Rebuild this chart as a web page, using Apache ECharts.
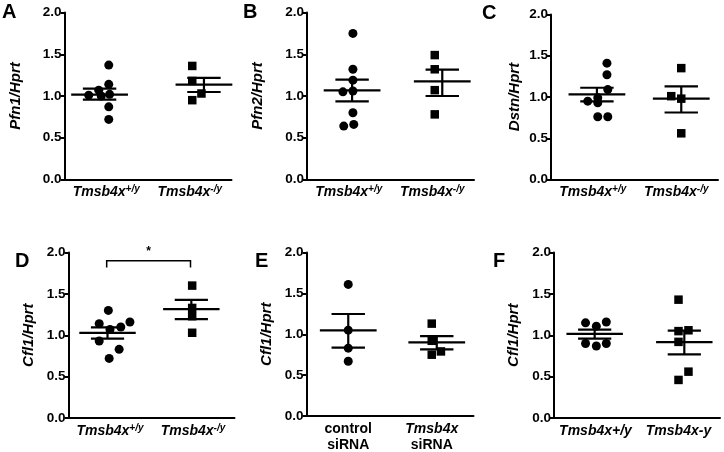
<!DOCTYPE html>
<html><head><meta charset="utf-8">
<script src="https://cdn.jsdelivr.net/npm/echarts@6/dist/echarts.min.js"></script>
<style>html,body{margin:0;padding:0;background:#fff}#c{width:724px;height:452px}</style>
</head><body><div id="c"></div>
<script>
// ---------- data ----------
const yTickLabels = ['0.0', '0.5', '1.0', '1.5', '2.0'];
const catsKO = ['Tmsb4x+/y', 'Tmsb4x-/y'];
const catsSi = ['control siRNA', 'Tmsb4x siRNA'];
const catsF = ['Tmsb4x+/y', 'Tmsb4x-y'];
const panelLetters = ['A', 'B', 'C', 'D', 'E', 'F'];
const yNames = ['Pfn1/Hprt', 'Pfn2/Hprt', 'Dstn/Hprt', 'Cfl1/Hprt', 'Cfl1/Hprt', 'Cfl1/Hprt'];

// Panel A  (Pfn1)
const aWt = [1.37, 1.14, 1.07, 1.01, 1.00, 1.02, 0.87, 0.72];
const aWtX = [0.53, 0.53, 0.41, 0.29, 0.44, 0.54, 0.53, 0.53];
const aKo = [1.36, 1.18, 1.03, 0.95];
const aKoX = [1.53, 1.53, 1.64, 1.53];
const aMean = [1.016, 1.136], aHi = [1.088, 1.216], aLo = [0.956, 1.048], aMeanX = [0.42, 1.67];

// Panel B  (Pfn2)
const bWt = [1.75, 1.32, 1.19, 1.05, 1.06, 0.80, 0.64, 0.66];
const bWtX = [0.55, 0.55, 0.55, 0.43, 0.55, 0.55, 0.44, 0.56];
const bKo = [1.49, 1.32, 1.07, 0.78];
const bKoX = [1.53, 1.53, 1.53, 1.53];
const bMean = [1.068, 1.176], bHi = [1.196, 1.316], bLo = [0.936, 1.0], bMeanX = [0.54, 1.62];

// Panel C  (Dstn)
const cWt = [1.41, 1.27, 1.09, 0.99, 0.95, 0.93, 0.76, 0.76];
const cWtX = [0.67, 0.67, 0.68, 0.56, 0.44, 0.56, 0.56, 0.68];
const cKo = [1.35, 1.01, 0.98, 0.56];
const cKoX = [1.56, 1.44, 1.56, 1.56];
const cMean = [1.032, 0.98], cHi = [1.112, 1.128], cLo = [0.948, 0.812], cMeanX = [0.55, 1.56];

// Panel D  (Cfl1, KO)
const dWt = [1.30, 1.14, 1.16, 1.10, 1.07, 0.93, 0.83, 0.72];
const dWtX = [0.48, 0.37, 0.74, 0.63, 0.50, 0.37, 0.61, 0.49];
const dKo = [1.60, 1.33, 1.23, 1.03];
const dKoX = [1.49, 1.49, 1.49, 1.49];
const dMean = [1.028, 1.316], dHi = [1.096, 1.428], dLo = [0.96, 1.196], dMeanX = [0.47, 1.48];
const dBracketX = [0.46, 1.47], dBracketTop = 1.9, dBracketFoot = 1.82, dSig = '*';

// Panel E  (Cfl1, siRNA)
const eCtl = [1.61, 1.05, 0.83, 0.67];
const eCtlX = [0.50, 0.50, 0.50, 0.50];
const eSi = [1.13, 0.92, 0.75, 0.79];
const eSiX = [1.50, 1.50, 1.50, 1.61];
const eMean = [1.048, 0.90], eHi = [1.248, 0.976], eLo = [0.836, 0.816], eMeanX = [0.50, 1.56];

// Panel F  (Cfl1)
const fWt = [1.15, 1.11, 1.16, 0.90, 0.87, 0.90];
const fWtX = [0.38, 0.51, 0.63, 0.38, 0.51, 0.63];
const fKo = [1.43, 1.05, 1.06, 0.92, 0.56, 0.46];
const fKoX = [1.50, 1.50, 1.62, 1.50, 1.62, 1.50];
const fMean = [1.016, 0.916], fHi = [1.068, 1.056], fLo = [0.96, 0.768], fMeanX = [0.49, 1.57];

// ---------- layout / style ----------
const FONT = '"Liberation Sans", Arial, sans-serif';
const panels = [
  {cats: catsKO, sup: true,  g1: aWt, g1x: aWtX, g2: aKo, g2x: aKoX, mean: aMean, hi: aHi, lo: aLo, mx: aMeanX,
   grid: {left: 64.5, top: 12.5, width: 167, height: 167}, letter: [2, 2], nameGap: 41},
  {cats: catsKO, sup: true,  g1: bWt, g1x: bWtX, g2: bKo, g2x: bKoX, mean: bMean, hi: bHi, lo: bLo, mx: bMeanX,
   grid: {left: 307, top: 12.5, width: 167, height: 167}, letter: [243, 2], nameGap: 42},
  {cats: catsKO, sup: true,  g1: cWt, g1x: cWtX, g2: cKo, g2x: cKoX, mean: cMean, hi: cHi, lo: cLo, mx: cMeanX,
   grid: {left: 551, top: 14.5, width: 167, height: 165}, letter: [482, 3], nameGap: 29},
  {cats: catsKO, sup: true,  g1: dWt, g1x: dWtX, g2: dKo, g2x: dKoX, mean: dMean, hi: dHi, lo: dLo, mx: dMeanX,
   grid: {left: 68.5, top: 252.5, width: 166, height: 165.5}, letter: [15, 251], nameGap: 32},
  {cats: catsSi, sup: false, g1: eCtl, g1x: eCtlX, g2: eSi, g2x: eSiX, mean: eMean, hi: eHi, lo: eLo, mx: eMeanX,
   grid: {left: 306.5, top: 252.5, width: 167, height: 165.5}, letter: [255, 251], nameGap: 32},
  {cats: catsF, sup: false, g1: fWt, g1x: fWtX, g2: fKo, g2x: fKoX, mean: fMean, hi: fHi, lo: fLo, mx: fMeanX,
   grid: {left: 554, top: 252.5, width: 166, height: 165.5}, letter: [493, 251], nameGap: 33}
];

const MEAN_HALF = 0.34, SEM_HALF = 0.2;

function catFormatter(p) {
  return function (name) {
    if (p.cats === catsSi) {
      const parts = name.split(' ');
      const first = parts[0] === 'control' ? '{b|' + parts[0] + '}' : '{i|' + parts[0] + '}';
      return first + '\n{b|' + parts[1] + '}';
    }
    if (p.sup) {
      const m = name.match(/^(Tmsb4x)(.*)$/);
      return '{i|' + m[1] + '}{s|' + m[2] + '}';
    }
    return '{i|' + name + '}';
  };
}

const rich = {
  i: {fontFamily: FONT, fontSize: 14, fontWeight: 'bold', fontStyle: 'italic', color: '#000', lineHeight: 16},
  b: {fontFamily: FONT, fontSize: 14, fontWeight: 'bold', color: '#000', lineHeight: 16},
  s: {fontFamily: FONT, fontSize: 10, fontWeight: 'bold', fontStyle: 'italic', color: '#000', lineHeight: 10, verticalAlign: 'top'}
};

const grids = [], xAxes = [], yAxes = [], series = [], graphics = [];
panels.forEach((p, k) => {
  grids.push(Object.assign({containLabel: false}, p.grid));
  xAxes.push({
    type: 'category', gridIndex: k, data: p.cats, boundaryGap: true,
    axisLine: {lineStyle: {color: '#000', width: 2}},
    axisTick: {alignWithLabel: true, length: 5, lineStyle: {color: '#000', width: 2}},
    axisLabel: {margin: 5, formatter: catFormatter(p), rich: rich, interval: 0},
    splitLine: {show: false}
  });
  xAxes.push({type: 'value', gridIndex: k, min: 0, max: 2, show: false});
  yAxes.push({
    type: 'value', gridIndex: k, min: 0, max: 2, interval: 0.5,
    name: yNames[k], nameLocation: 'middle', nameRotate: 90, nameGap: p.nameGap,
    nameTextStyle: {fontFamily: FONT, fontSize: 15, fontWeight: 'bold', fontStyle: 'italic', color: '#000'},
    axisLine: {show: true, lineStyle: {color: '#000', width: 2}},
    axisTick: {show: true, length: 4, lineStyle: {color: '#000', width: 2}},
    axisLabel: {margin: 3, fontFamily: FONT, fontSize: 13.5, fontWeight: 'bold', color: '#000',
      formatter: v => yTickLabels[Math.round(v / 0.5)]},
    splitLine: {show: false}
  });
  series.push({
    type: 'scatter', xAxisIndex: 2 * k + 1, yAxisIndex: k, symbol: 'circle', symbolSize: 9,
    itemStyle: {color: '#000', opacity: 1}, data: p.g1.map((v, i) => [p.g1x[i], v]), z: 3
  });
  series.push({
    type: 'scatter', xAxisIndex: 2 * k + 1, yAxisIndex: k, symbol: 'rect', symbolSize: 8.5,
    itemStyle: {color: '#000', opacity: 1}, data: p.g2.map((v, i) => [p.g2x[i], v]), z: 3
  });
  series.push({
    type: 'custom', xAxisIndex: 2 * k + 1, yAxisIndex: k, z: 4,
    data: p.mean.map((m, i) => [p.mx[i], m, p.hi[i], p.lo[i]]),
    renderItem: function (params, api) {
      const cx = api.value(0), m = api.value(1), hi = api.value(2), lo = api.value(3);
      const st = {stroke: '#000', lineWidth: 2.2};
      const L = (x1, y1, x2, y2) => {
        const a = api.coord([x1, y1]), b = api.coord([x2, y2]);
        return {type: 'line', shape: {x1: a[0], y1: a[1], x2: b[0], y2: b[1]}, style: st};
      };
      return {type: 'group', children: [
        L(cx - MEAN_HALF, m, cx + MEAN_HALF, m),
        L(cx - SEM_HALF, hi, cx + SEM_HALF, hi),
        L(cx - SEM_HALF, lo, cx + SEM_HALF, lo),
        L(cx, hi, cx, lo)
      ]};
    }
  });
  graphics.push({
    type: 'text', left: p.letter[0], top: p.letter[1],
    style: {text: panelLetters[k], font: 'bold 20px ' + FONT, fill: '#000'}
  });
});

// significance bracket in D
series.push({
  type: 'custom', xAxisIndex: 7, yAxisIndex: 3, z: 4, clip: false,
  data: [[dBracketX[0], dBracketX[1], dBracketTop, dBracketFoot]],
  renderItem: function (params, api) {
    const x1 = api.value(0), x2 = api.value(1), top = api.value(2), foot = api.value(3);
    const a = api.coord([x1, foot]), b = api.coord([x1, top]), c = api.coord([x2, top]), d = api.coord([x2, foot]);
    const mid = api.coord([(x1 + x2) / 2, top]);
    return {type: 'group', children: [
      {type: 'polyline', shape: {points: [a, b, c, d]}, style: {stroke: '#000', lineWidth: 1.5, fill: null}},
      {type: 'text', x: mid[0], y: mid[1] - 3, style: {text: dSig, font: 'bold 12px ' + FONT, fill: '#000', align: 'center', verticalAlign: 'bottom'}}
    ]};
  }
});

const chart = echarts.init(document.getElementById('c'), null, {renderer: 'canvas'});
chart.setOption({
  animation: false,
  backgroundColor: '#fff',
  grid: grids, xAxis: xAxes, yAxis: yAxes, series: series, graphic: graphics
});
</script></body></html>
